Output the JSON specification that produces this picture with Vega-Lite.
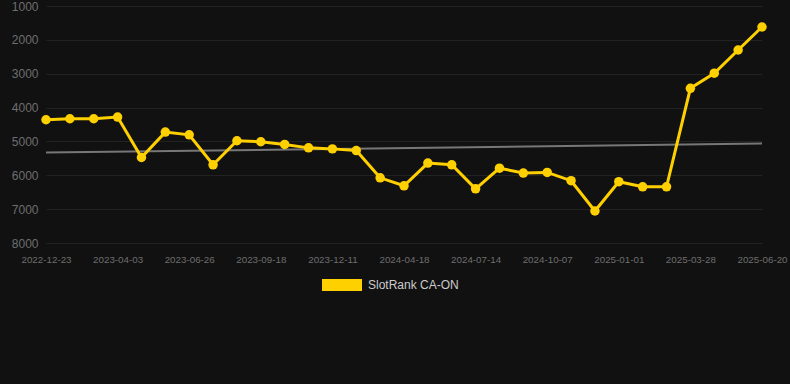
{
  "$schema": "https://vega.github.io/schema/vega-lite/v6.json",
  "width": 716,
  "height": 237,
  "autosize": {"type": "none"},
  "padding": {"left": 46, "top": 6, "right": 28, "bottom": 141},
  "background": "#111111",
  "config": {
    "font": "Liberation Sans",
    "view": {"stroke": null},
    "axis": {"gridColor": "#222222", "gridWidth": 1, "domain": false, "ticks": false, "labelColor": "#6e6e6e", "labelOverlap": false}
  },
  "data": {"values": [
    {"date": "2022-12-23", "rank": 4360, "trend": 5330},
    {"date": "2023-01-26", "rank": 4330},
    {"date": "2023-03-01", "rank": 4330},
    {"date": "2023-04-03", "rank": 4280},
    {"date": "2023-05-01", "rank": 5475},
    {"date": "2023-05-29", "rank": 4725},
    {"date": "2023-06-26", "rank": 4805},
    {"date": "2023-07-24", "rank": 5690},
    {"date": "2023-08-21", "rank": 4980},
    {"date": "2023-09-18", "rank": 5010},
    {"date": "2023-10-16", "rank": 5090},
    {"date": "2023-11-13", "rank": 5190},
    {"date": "2023-12-11", "rank": 5220},
    {"date": "2024-01-23", "rank": 5270},
    {"date": "2024-03-06", "rank": 6075},
    {"date": "2024-04-18", "rank": 6310},
    {"date": "2024-05-20", "rank": 5640},
    {"date": "2024-06-17", "rank": 5690},
    {"date": "2024-07-14", "rank": 6400},
    {"date": "2024-08-11", "rank": 5790},
    {"date": "2024-09-09", "rank": 5935},
    {"date": "2024-10-07", "rank": 5915},
    {"date": "2024-11-04", "rank": 6160},
    {"date": "2024-12-03", "rank": 7055},
    {"date": "2025-01-01", "rank": 6190},
    {"date": "2025-01-29", "rank": 6340},
    {"date": "2025-02-28", "rank": 6340},
    {"date": "2025-03-28", "rank": 3430},
    {"date": "2025-04-25", "rank": 2985},
    {"date": "2025-05-23", "rank": 2300},
    {"date": "2025-06-20", "rank": 1620, "trend": 5060}
  ]},
  "encoding": {
    "x": {
      "field": "date", "type": "ordinal", "sort": "ascending",
      "scale": {"type": "point", "padding": 0},
      "axis": {
        "title": null, "labelAngle": 0, "labelFontSize": 9.8, "labelPadding": 11,
        "values": ["2022-12-23","2023-04-03","2023-06-26","2023-09-18","2023-12-11","2024-04-18","2024-07-14","2024-10-07","2025-01-01","2025-03-28","2025-06-20"]
      }
    },
    "y": {
      "field": "rank", "type": "quantitative",
      "scale": {"domain": [1000, 8000], "reverse": true, "nice": false, "zero": false},
      "axis": {"title": null, "values": [1000,2000,3000,4000,5000,6000,7000,8000], "tickCount": 8, "labelFontSize": 12, "labelPadding": 8, "format": "d", "labelOverlap": false}
    }
  },
  "layer": [
    {
      "mark": {"type": "line", "color": "#777777", "strokeWidth": 2},
      "transform": [{"filter": "isValid(datum.trend)"}],
      "encoding": {
        "y": {
          "field": "trend", "type": "quantitative",
          "scale": {"domain": [1000, 8000], "reverse": true, "nice": false, "zero": false},
          "axis": {"title": null, "values": [1000,2000,3000,4000,5000,6000,7000,8000], "tickCount": 8, "labelFontSize": 12, "labelPadding": 8, "format": "d", "labelOverlap": false}
        }
      }
    },
    {
      "mark": {"type": "line", "strokeWidth": 3},
      "encoding": {
        "color": {
          "datum": "SlotRank CA-ON", "type": "nominal",
          "scale": {"range": ["#ffd000"]},
          "legend": {
            "title": null, "orient": "none", "legendX": 276, "legendY": 259,
            "symbolType": "M-1,-0.3L1,-0.3L1,0.3L-1,0.3Z", "symbolSize": 1600,
            "symbolFillColor": "#ffd000", "symbolStrokeWidth": 0,
            "labelColor": "#cccccc", "labelFontSize": 12, "labelOffset": 6
          }
        }
      }
    },
    {
      "mark": {"type": "point", "filled": true, "size": 90, "opacity": 1, "color": "#ffd000"}
    }
  ]
}
